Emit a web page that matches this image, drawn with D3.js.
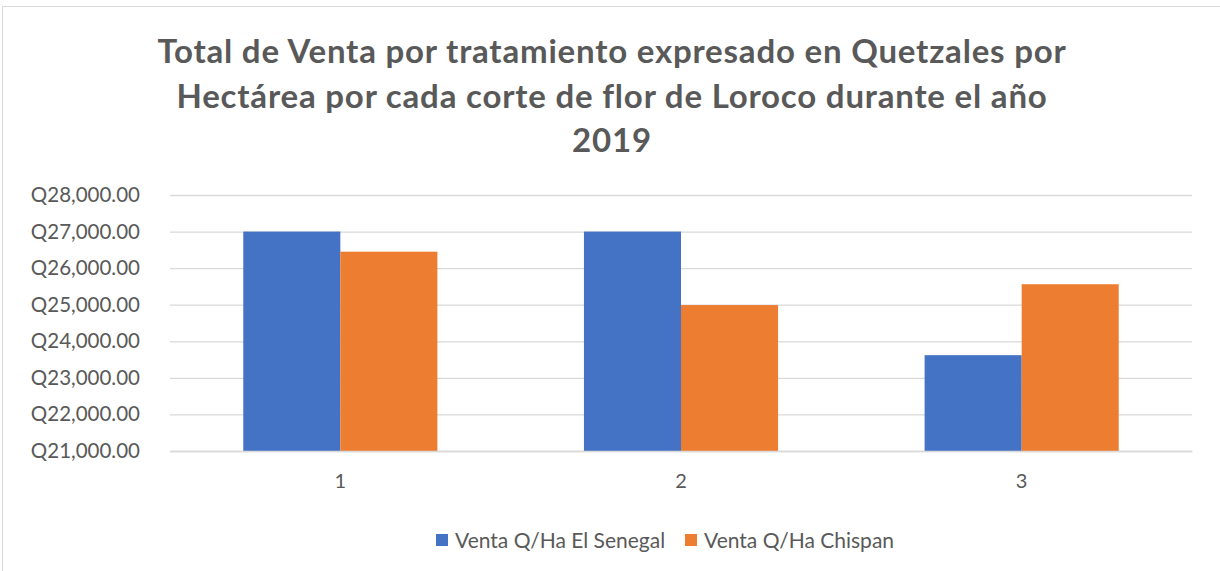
<!DOCTYPE html>
<html>
<head>
<meta charset="utf-8">
<script src="https://cdn.jsdelivr.net/npm/d3@7"></script>
<style>
  body { margin: 0; background: #fff; }
  text { font-family: Lato, "Open Sans", sans-serif; fill: #595959; }
</style>
</head>
<body>
<div id="chart"></div>
<script>
// data
var categories = ["1", "2", "3"];
var seriesNames = ["Venta Q/Ha El Senegal", "Venta Q/Ha Chispan"];
var senegal = [27000, 27000, 23620];
var chispan = [26450, 24990, 25560];
var yTicks = [21000, 22000, 23000, 24000, 25000, 26000, 27000, 28000];
var titleLines = [
  "Total de Venta por tratamiento expresado en Quetzales por",
  "Hectárea por cada corte de flor de Loroco durante el año",
  "2019"
];
var colors = ["#4472c4", "#ed7d31"];

var svgWidth = 1220;
var svgHeight = 571;

var margin = { top: 195, right: 28, bottom: 120, left: 170 };
var width = svgWidth - margin.left - margin.right;
var height = svgHeight - margin.top - margin.bottom;

var svg = d3.select("#chart")
  .append("svg")
  .attr("width", svgWidth)
  .attr("height", svgHeight);

// chart frame
svg.append("rect")
  .attr("x", 2.5)
  .attr("y", 6.5)
  .attr("width", 1230)
  .attr("height", 580)
  .attr("fill", "#fff")
  .attr("stroke", "#d9d9d9");

// title
svg.append("g").selectAll("text")
  .data(titleLines)
  .enter()
  .append("text")
  .attr("x", 612)
  .attr("y", (d, i) => 63 + i * 44.5)
  .attr("text-anchor", "middle")
  .attr("font-size", 33)
  .attr("font-weight", "bold")
  .style("letter-spacing", "0.8px")
  .text(d => d);

var chartGroup = svg.append("g")
  .attr("transform", `translate(${margin.left}, ${margin.top})`);

var data = categories.map((c, i) => ({ cat: c, values: [senegal[i], chispan[i]] }));

var x0 = d3.scaleBand()
  .domain(categories)
  .range([0, width])
  .paddingInner(0)
  .paddingOuter(0);

var x1 = d3.scaleBand()
  .domain(d3.range(seriesNames.length))
  .range([0, x0.bandwidth()])
  .paddingInner(0)
  .paddingOuter(0.755);

var y = d3.scaleLinear()
  .domain([21000, 28000])
  .range([height, 0]);

// gridlines
var leftAxis = d3.axisLeft(y)
  .tickValues(yTicks)
  .tickSize(-width)
  .tickPadding(30)
  .tickFormat(d => "Q" + d3.format(",.2f")(d));

var yAxisG = chartGroup.append("g").call(leftAxis);
yAxisG.select(".domain").remove();
yAxisG.selectAll("line").attr("stroke", "#d9d9d9").attr("stroke-width", 1.3);
yAxisG.selectAll("text")
  .attr("font-size", 20.5)
  .attr("fill", "#595959")
  .style("font-family", "Lato, sans-serif");

// bars
var groups = chartGroup.selectAll(".cat")
  .data(data)
  .enter()
  .append("g")
  .attr("transform", d => `translate(${x0(d.cat)}, 0)`);

groups.selectAll("rect")
  .data(d => d.values)
  .enter()
  .append("rect")
  .attr("x", (d, i) => x1(i))
  .attr("y", d => y(d))
  .attr("width", x1.bandwidth())
  .attr("height", d => height - y(d))
  .attr("fill", (d, i) => colors[i]);

// bottom axis
var bottomAxis = d3.axisBottom(x0).tickSize(0).tickPadding(23);
var xAxisG = chartGroup.append("g")
  .attr("transform", `translate(0, ${height})`)
  .call(bottomAxis);
xAxisG.select(".domain").attr("stroke", "#d9d9d9").attr("stroke-width", 1.3);
xAxisG.selectAll("text")
  .attr("font-size", 20)
  .attr("fill", "#595959")
  .style("font-family", "Lato, sans-serif");

// legend
var legendX = [436, 685];
var legend = svg.append("g").selectAll("g")
  .data(seriesNames)
  .enter()
  .append("g")
  .attr("transform", (d, i) => `translate(${legendX[i]}, 540)`);

legend.append("rect")
  .attr("x", 0)
  .attr("y", -6)
  .attr("width", 12)
  .attr("height", 12)
  .attr("fill", (d, i) => colors[i]);

legend.append("text")
  .attr("x", 19)
  .attr("y", 7.5)
  .attr("font-size", 21)
  .text(d => d);
</script>
</body>
</html>
